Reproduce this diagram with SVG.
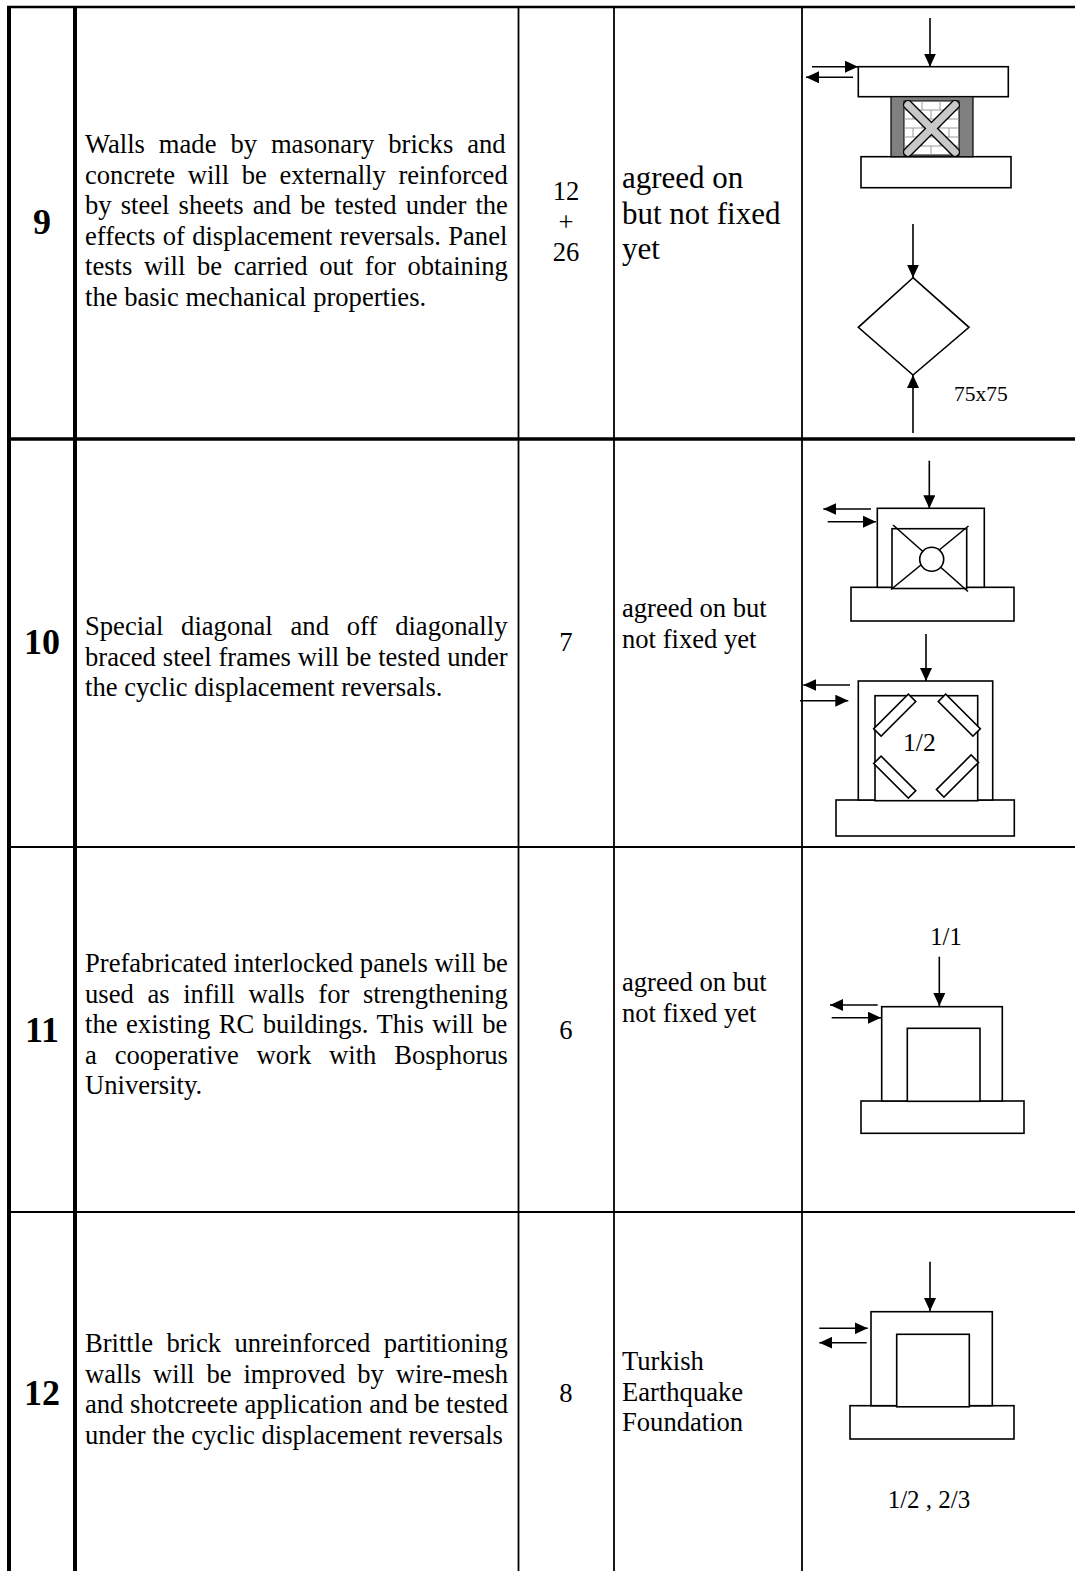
<svg xmlns="http://www.w3.org/2000/svg" width="1075" height="1571" viewBox="0 0 1075 1571">
<style>
text{font-family:"Liberation Serif","Times New Roman",serif;fill:#000}
.d{font-size:26.6px}
.n{font-size:36px;font-weight:bold;text-anchor:middle}
.c{font-size:26.6px;text-anchor:middle}
.big{font-size:31px}
.tl{stroke:#000;fill:none}
.sk{stroke:#000;stroke-width:1.6;fill:#fff}
.ar{stroke:#000;stroke-width:1.6;fill:none;marker-end:url(#ah)}
</style>
<defs>
<marker id="ah" markerUnits="userSpaceOnUse" viewBox="0 0 13 12" markerWidth="13" markerHeight="12" refX="13" refY="6" orient="auto"><path d="M0,0 L13,6 L0,12 z" fill="#000"/></marker>
</defs>
<rect width="1075" height="1571" fill="#fff"/>
<g id="table">
<line class="tl" x1="7" y1="7" x2="1075" y2="7" stroke-width="2.6"/>
<line class="tl" x1="9" y1="6" x2="9" y2="1571" stroke-width="4"/>
<line class="tl" x1="75" y1="6" x2="75" y2="1571" stroke-width="4"/>
<line class="tl" x1="518.5" y1="7" x2="518.5" y2="1571" stroke-width="1.8"/>
<line class="tl" x1="614" y1="7" x2="614" y2="1571" stroke-width="1.8"/>
<line class="tl" x1="802" y1="7" x2="802" y2="1571" stroke-width="1.8"/>
<line class="tl" x1="7" y1="439" x2="1075" y2="439" stroke-width="3.3"/>
<line class="tl" x1="9" y1="847" x2="1075" y2="847" stroke-width="1.8"/>
<line class="tl" x1="9" y1="1212" x2="1075" y2="1212" stroke-width="1.8"/>
</g>
<g id="row9">
<text class="n" x="42" y="234">9</text>
<text class="d" x="85" y="153" word-spacing="7.3">Walls made by masonary bricks and</text>
<text class="d" x="85" y="183.6" word-spacing="6.0">concrete will be externally reinforced</text>
<text class="d" x="85" y="214.2" word-spacing="2.5">by steel sheets and be tested under the</text>
<text class="d" x="85" y="244.8" word-spacing="0.67">effects of displacement reversals. Panel</text>
<text class="d" x="85" y="275.4" word-spacing="5.0">tests will be carried out for obtaining</text>
<text class="d" x="85" y="306">the basic mechanical properties.</text>
<text class="c" x="566" y="200">12</text>
<text class="c" x="566" y="230.6">+</text>
<text class="c" x="566" y="261.2">26</text>
<text class="big" x="622" y="188">agreed on</text>
<text class="big" x="622" y="223.5">but not fixed</text>
<text class="big" x="622" y="259">yet</text>
</g>
<g id="sketch9a">
<rect class="sk" x="858.3" y="66.7" width="150" height="30"/>
<rect class="sk" x="861" y="156.7" width="150" height="31"/>
<rect x="891" y="96.7" width="82" height="60" fill="#808080" stroke="#000" stroke-width="1.2"/>
<rect x="904" y="101" width="55" height="54" fill="#fff" stroke="#000" stroke-width="1"/>
<g stroke="#9a9a9a" stroke-width="1">
<line x1="904.5" y1="110" x2="958.5" y2="110"/>
<line x1="904.5" y1="119" x2="958.5" y2="119"/>
<line x1="904.5" y1="128" x2="958.5" y2="128"/>
<line x1="904.5" y1="137" x2="958.5" y2="137"/>
<line x1="904.5" y1="146" x2="958.5" y2="146"/>
<line x1="922" y1="101" x2="922" y2="110"/>
<line x1="940" y1="101" x2="940" y2="110"/>
<line x1="913" y1="110" x2="913" y2="119"/>
<line x1="931" y1="110" x2="931" y2="119"/>
<line x1="949" y1="110" x2="949" y2="119"/>
<line x1="922" y1="119" x2="922" y2="128"/>
<line x1="940" y1="119" x2="940" y2="128"/>
<line x1="913" y1="128" x2="913" y2="137"/>
<line x1="931" y1="128" x2="931" y2="137"/>
<line x1="949" y1="128" x2="949" y2="137"/>
<line x1="922" y1="137" x2="922" y2="146"/>
<line x1="940" y1="137" x2="940" y2="146"/>
<line x1="913" y1="146" x2="913" y2="155"/>
<line x1="931" y1="146" x2="931" y2="155"/>
<line x1="949" y1="146" x2="949" y2="155"/>
</g>
<g stroke-linecap="round">
<line x1="908" y1="105" x2="955" y2="152" stroke="#000" stroke-width="10"/>
<line x1="955" y1="105" x2="908" y2="152" stroke="#000" stroke-width="10"/>
<line x1="908" y1="105" x2="955" y2="152" stroke="#c8c8c8" stroke-width="7.4"/>
<line x1="955" y1="105" x2="908" y2="152" stroke="#c8c8c8" stroke-width="7.4"/>
</g>
</g>
<g id="sketch9b">
<polygon class="sk" points="913,277.7 969,327.3 913,375 858.3,327.3"/>
<text x="954" y="401" font-size="21.5">75x75</text>
</g>
<g id="row10">
<text class="n" x="42" y="654">10</text>
<text class="d" x="85" y="635" word-spacing="11.2">Special diagonal and off diagonally</text>
<text class="d" x="85" y="665.6" word-spacing="0.3">braced steel frames will be tested under</text>
<text class="d" x="85" y="696.2">the cyclic displacement reversals.</text>
<text class="c" x="566" y="651">7</text>
<text class="d" x="622" y="617">agreed on but</text>
<text class="d" x="622" y="648">not fixed yet</text>
</g>
<g id="sketch10a">
<rect class="sk" x="851" y="587.3" width="163" height="33.7"/>
<rect class="sk" x="877.3" y="508.3" width="107" height="79"/>
<rect class="sk" x="892" y="528.7" width="74.7" height="59.8"/>
<line x1="893" y1="525" x2="968" y2="591.5" stroke="#000" stroke-width="1.6"/>
<line x1="968.5" y1="526" x2="891" y2="589.5" stroke="#000" stroke-width="1.6"/>
<circle class="sk" cx="931.7" cy="559.3" r="12"/>
</g>
<g id="sketch10b">
<rect class="sk" x="836" y="800" width="178.3" height="36"/>
<rect class="sk" x="858.3" y="681" width="134.4" height="119"/>
<rect class="sk" x="875" y="695.7" width="102.7" height="105"/>
<rect class="sk" x="-24.5" y="-5.25" width="49" height="10.5" transform="translate(894.7,715.2) rotate(-45)"/>
<rect class="sk" x="-24.5" y="-5.25" width="49" height="10.5" transform="translate(959.3,715.2) rotate(45)"/>
<rect class="sk" x="-24.5" y="-5.25" width="49" height="10.5" transform="translate(894.7,777.2) rotate(45)"/>
<rect class="sk" x="-24.5" y="-5.25" width="49" height="10.5" transform="translate(957.5,776) rotate(-45)"/>
<text x="903" y="751" font-size="25.6">1/2</text>
</g>
<g id="row11">
<text class="n" x="42" y="1042">11</text>
<text class="d" x="85" y="972" word-spacing="0.1">Prefabricated interlocked panels will be</text>
<text class="d" x="85" y="1002.6" word-spacing="7.0">used as infill walls for strengthening</text>
<text class="d" x="85" y="1033.2" word-spacing="1.9">the existing RC buildings. This will be</text>
<text class="d" x="85" y="1063.8" word-spacing="11.2">a cooperative work with Bosphorus</text>
<text class="d" x="85" y="1094.4">University.</text>
<text class="c" x="566" y="1039">6</text>
<text class="d" x="622" y="991">agreed on but</text>
<text class="d" x="622" y="1022">not fixed yet</text>
</g>
<g id="sketch11">
<text x="946" y="945" font-size="24.5" text-anchor="middle">1/1</text>
<rect class="sk" x="861" y="1101" width="163" height="32.3"/>
<rect class="sk" x="881.7" y="1006.7" width="120.6" height="94.3"/>
<rect class="sk" x="907.3" y="1028.3" width="72.7" height="73"/>
</g>
<g id="row12">
<text class="n" x="42" y="1405">12</text>
<text class="d" x="85" y="1352" word-spacing="6.8">Brittle brick unreinforced partitioning</text>
<text class="d" x="85" y="1382.6" word-spacing="5.3">walls will be improved by wire-mesh</text>
<text class="d" x="85" y="1413.2">and shotcreete application and be tested</text>
<text class="d" x="85" y="1443.8">under the cyclic displacement reversals</text>
<text class="c" x="566" y="1402">8</text>
<text class="d" x="622" y="1370">Turkish</text>
<text class="d" x="622" y="1400.6">Earthquake</text>
<text class="d" x="622" y="1431.2">Foundation</text>
</g>
<g id="sketch12">
<rect class="sk" x="850" y="1405.7" width="164" height="33.3"/>
<rect class="sk" x="871" y="1311.7" width="121.3" height="94"/>
<rect class="sk" x="896.7" y="1334.3" width="72.6" height="72.5"/>
<text x="929" y="1508" font-size="25" text-anchor="middle">1/2 , 2/3</text>
</g>
<g id="connectors">
<line class="ar" x1="930" y1="18" x2="930" y2="66.7"/>
<line class="ar" x1="812" y1="66.7" x2="858" y2="66.7"/>
<line class="ar" x1="853" y1="77.3" x2="806" y2="77.3"/>
<line class="ar" x1="913" y1="224" x2="913" y2="277.7"/>
<line class="ar" x1="913" y1="433" x2="913" y2="375"/>
<line class="ar" x1="929.3" y1="460.7" x2="929.3" y2="508.3"/>
<line class="ar" x1="871" y1="509" x2="823.3" y2="509"/>
<line class="ar" x1="827.7" y1="521.7" x2="876" y2="521.7"/>
<line class="ar" x1="926" y1="634" x2="926" y2="681"/>
<line class="ar" x1="850" y1="685" x2="803.3" y2="685"/>
<line class="ar" x1="800" y1="700.7" x2="848.3" y2="700.7"/>
<line class="ar" x1="939.3" y1="956.7" x2="939.3" y2="1006"/>
<line class="ar" x1="877.7" y1="1005" x2="830" y2="1005"/>
<line class="ar" x1="831.7" y1="1017.7" x2="881" y2="1017.7"/>
<line class="ar" x1="930" y1="1261.7" x2="930" y2="1311"/>
<line class="ar" x1="819.3" y1="1328.3" x2="867.7" y2="1328.3"/>
<line class="ar" x1="866.7" y1="1342.7" x2="819.3" y2="1342.7"/>
</g>
</svg>
